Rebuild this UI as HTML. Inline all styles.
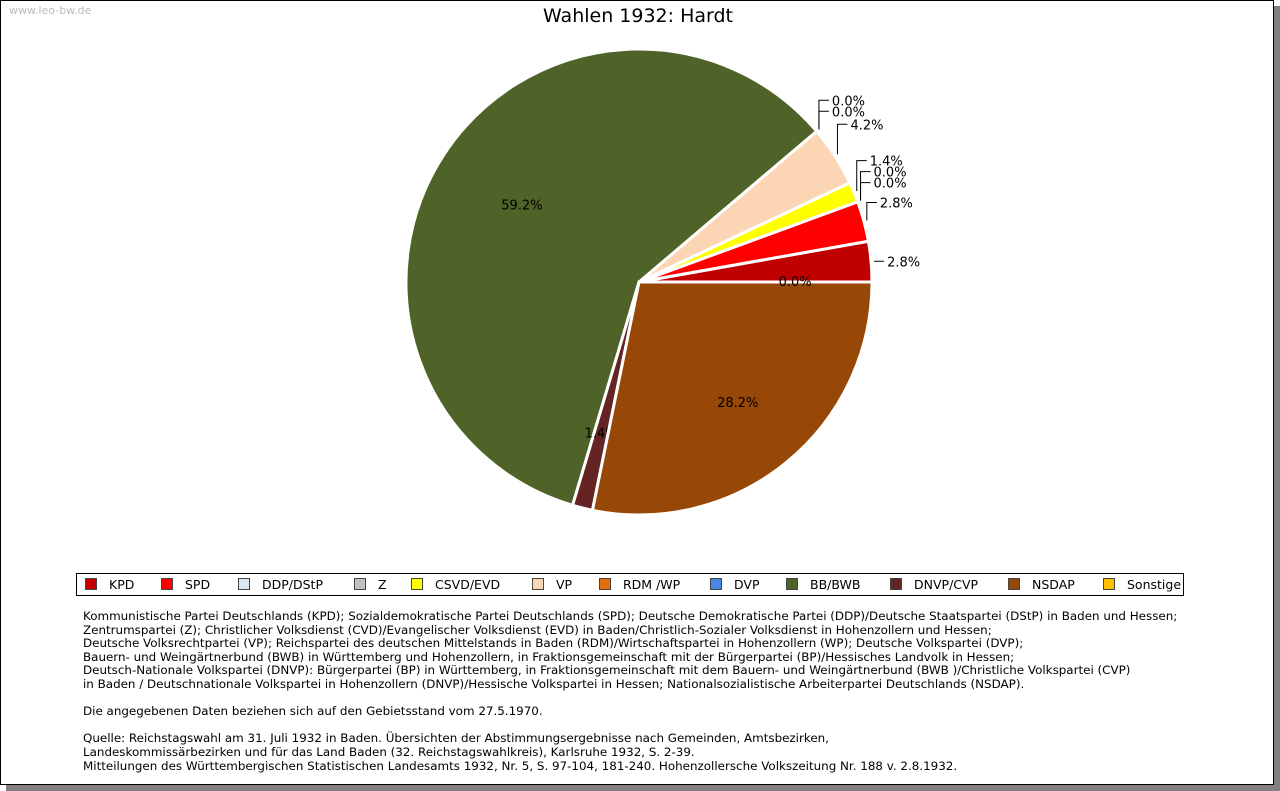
<!DOCTYPE html>
<html><head><meta charset="utf-8"><style>
body{margin:0;background:#fff;font-family:"DejaVu Sans","Liberation Sans",sans-serif}
#frame{position:absolute;left:0;top:0;width:1272px;height:783px;border:1px solid #000;background:#fff;box-shadow:6px 6px 0 #808080}
.t{position:absolute;font-size:12px;color:#000}
</style></head><body>
<div id="frame">
<div class="t" style="left:8px;top:3px;color:#bbb;font-size:11px">www.leo-bw.de</div>
<div class="t" style="left:0;width:1274px;text-align:center;top:4px;font-size:19px">Wahlen 1932: Hardt</div>
<svg id="pie" width="1274" height="560" style="position:absolute;left:0;top:0"></svg>
<div id="legend" style="position:absolute;left:75px;top:572px;width:1106px;height:21px;border:1px solid #000;font-size:12.5px"></div>
<div class="t" style="left:82px;top:609px;font-size:11.9px;line-height:13.6px;white-space:pre">Kommunistische Partei Deutschlands (KPD); Sozialdemokratische Partei Deutschlands (SPD); Deutsche Demokratische Partei (DDP)/Deutsche Staatspartei (DStP) in Baden und Hessen;
Zentrumspartei (Z); Christlicher Volksdienst (CVD)/Evangelischer Volksdienst (EVD) in Baden/Christlich-Sozialer Volksdienst in Hohenzollern und Hessen;
Deutsche Volksrechtpartei (VP); Reichspartei des deutschen Mittelstands in Baden (RDM)/Wirtschaftspartei in Hohenzollern (WP); Deutsche Volkspartei (DVP);
Bauern- und Weingärtnerbund (BWB) in Württemberg und Hohenzollern, in Fraktionsgemeinschaft mit der Bürgerpartei (BP)/Hessisches Landvolk in Hessen;
Deutsch-Nationale Volkspartei (DNVP): Bürgerpartei (BP) in Württemberg, in Fraktionsgemeinschaft mit dem Bauern- und Weingärtnerbund (BWB )/Christliche Volkspartei (CVP)
in Baden / Deutschnationale Volkspartei in Hohenzollern (DNVP)/Hessische Volkspartei in Hessen; Nationalsozialistische Arbeiterpartei Deutschlands (NSDAP).

Die angegebenen Daten beziehen sich auf den Gebietsstand vom 27.5.1970.

Quelle: Reichstagswahl am 31. Juli 1932 in Baden. Übersichten der Abstimmungsergebnisse nach Gemeinden, Amtsbezirken,
Landeskommissärbezirken und für das Land Baden (32. Reichstagswahlkreis), Karlsruhe 1932, S. 2-39.
Mitteilungen des Württembergischen Statistischen Landesamts 1932, Nr. 5, S. 97-104, 181-240. Hohenzollersche Volkszeitung Nr. 188 v. 2.8.1932.</div>
</div>
<script>
const parties=["KPD","SPD","DDP/DStP","Z","CSVD/EVD","VP","RDM /WP","DVP","BB/BWB","DNVP/CVP","NSDAP","Sonstige"];
const shares=[2.8,2.8,0.0,0.0,1.4,4.2,0.0,0.0,59.2,1.4,28.2,0.0];
const colors=["#c00000","#ff0000","#dce6f2","#c0c0c0","#ffff00","#fcd5b5","#e46c0a","#4a86e8","#4f6228","#632423","#974806","#ffc000"];
const NS="http://www.w3.org/2000/svg";
const svg=document.getElementById('pie');
const cx=638,cy=281,r=233;
function pt(a,rr){return [cx+rr*Math.cos(a),cy-rr*Math.sin(a)];}
function mk(tag,at){const e=document.createElementNS(NS,tag);for(const k in at)e.setAttribute(k,at[k]);svg.appendChild(e);return e;}
const total=shares.reduce((a,b)=>a+b,0);
let acc=0,prevY=1e9;
shares.forEach((v,i)=>{
  const a0=acc/total*2*Math.PI;acc+=v;const a1=acc/total*2*Math.PI;const am=(a0+a1)/2;
  if(v>0){
    const p0=pt(a0,r),p1=pt(a1,r);const large=(a1-a0)>Math.PI?1:0;
    const s=mk('path',{d:`M${cx},${cy}L${p0[0]},${p0[1]}A${r},${r} 0 ${large} 0 ${p1[0]},${p1[1]}Z`,fill:colors[i],stroke:'#fff','stroke-width':3});
    
    
  }
  let lx,ly,big=v>=10||parties[i]==="DNVP/CVP"||parties[i]==="Sonstige";
  const t=document.createElementNS(NS,'text');
  if(big){
    [lx,ly]=pt(am,parties[i]==="BB/BWB"?0.6*r:0.67*r);
    t.setAttribute('x',lx);t.setAttribute('y',ly+4);t.setAttribute('text-anchor','middle');
  }else{
    const e=pt(am,r+3);
    let y=Math.min(e[1]-(i===0?0:(v>=4?30:18)),prevY-11);prevY=y;
    const x=e[0];
    mk('path',{d:`M${x},${e[1]}L${x},${y}L${x+10},${y}`,fill:'none',stroke:'#000','stroke-width':1});
    t.setAttribute('x',x+13);t.setAttribute('y',y+5);
  }
  t.setAttribute('font-size','13');t.setAttribute('font-family','DejaVu Sans, Liberation Sans, sans-serif');
  t.textContent=v.toFixed(1)+'%';
  
  
  svg.appendChild(t);
});
const lg=document.getElementById('legend');
const xs=[8,84,161,277,334,455,522,633,709,813,931,1026];
parties.forEach((p,i)=>{
  const d=document.createElement('div');
  d.style.cssText=`position:absolute;left:${xs[i]}px;top:3px;white-space:nowrap`;
  d.innerHTML=`<span style="display:inline-block;width:10px;height:10px;border:1px solid #444;background:${colors[i]};vertical-align:-1px;margin-right:12px"></span>${p}`;
  
  
  lg.appendChild(d);
});
</script>
</body></html>
